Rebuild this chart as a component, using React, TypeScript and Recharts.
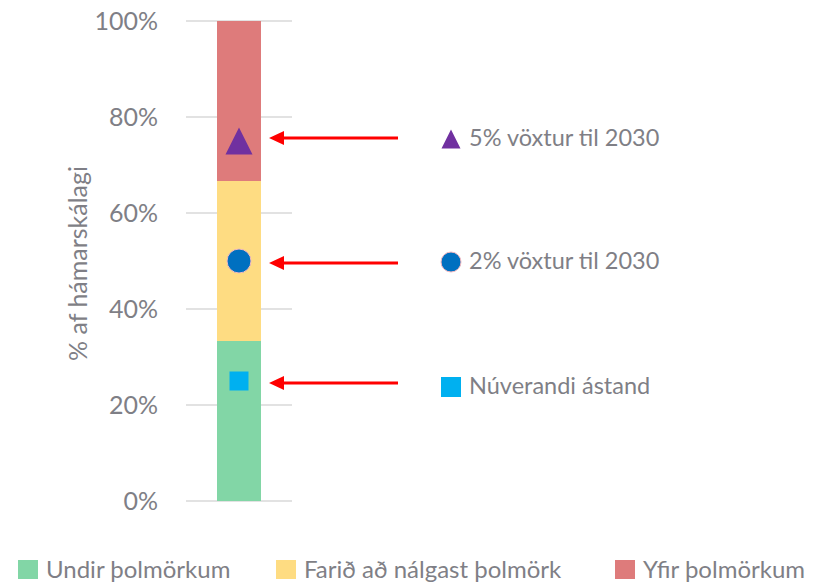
import { Bar, ComposedChart, Scatter, XAxis, YAxis, CartesianGrid } from "recharts"

const categories = ["Álag"]
const undir = [33.33]
const farid = [33.33]
const yfir = [33.34]
const nuverandi = [25]
const voxtur2 = [50]
const voxtur5 = [75]
const yTicks = [0, 20, 40, 60, 80, 100]

const data = categories.map((c, i) => ({
  name: c,
  undir: undir[i],
  farid: farid[i],
  yfir: yfir[i],
  nu: nuverandi[i],
  v2: voxtur2[i],
  v5: voxtur5[i],
}))

const FONT = "Lato, 'Open Sans', sans-serif"
const GREY = "#7f7f86"

function Marker({ kind, cx, cy, size, color }: { kind: string; cx: number; cy: number; size: number; color: string }) {
  if (kind === "triangle") {
    const h = size
    return <polygon points={`${cx},${cy - h / 2} ${cx + h / 2},${cy + h / 2} ${cx - h / 2},${cy + h / 2}`} fill={color} />
  }
  if (kind === "circle") {
    return <circle cx={cx} cy={cy} r={size / 2} fill={color} stroke="#f2b8c0" strokeWidth={1} />
  }
  return <rect x={cx - size / 2} y={cy - size / 2} width={size} height={size} fill={color} />
}

// marker on the bar + red arrow + label with icon on the right
function annotated(kind: string, color: string, label: string, arrowDy: number, labelDy: number, markerSize: number, iconSize: number) {
  return (props: any) => {
    const { cx, cy } = props
    const ay = cy + arrowDy
    const ly = cy + labelDy
    const tip = cx + 30
    return (
      <g>
        <Marker kind={kind} cx={cx} cy={cy} size={markerSize} color={color} />
        <line x1={tip + 12} y1={ay} x2={cx + 159} y2={ay} stroke="#ff0000" strokeWidth={3} />
        <polygon points={`${tip},${ay} ${tip + 15},${ay - 7} ${tip + 15},${ay + 7}`} fill="#ff0000" />
        <Marker kind={kind} cx={cx + 212} cy={ly} size={iconSize} color={color} />
        <text x={cx + 230} y={ly - 1} dy="0.36em" fontSize={23.5} fill={GREY} fontFamily={FONT}>
          {label}
        </text>
      </g>
    )
  }
}

const legendItems = [
  { label: "Undir þolmörkum", color: "#82d6a6", left: 18 },
  { label: "Farið að nálgast þolmörk", color: "#fedc82", left: 276 },
  { label: "Yfir þolmörkum", color: "#de7b7b", left: 615 },
]

function BottomLegend() {
  return (
    <div style={{ position: "absolute", left: 0, top: 557, width: 816, height: 25, fontFamily: FONT, fontSize: 24, color: GREY, lineHeight: "24px" }}>
      {legendItems.map((it) => (
        <div key={it.label} style={{ position: "absolute", left: it.left, top: 0, height: 24, display: "flex", alignItems: "center", whiteSpace: "nowrap" }}>
          <span style={{ width: 20, height: 19, background: it.color, marginRight: 8, display: "inline-block", flex: "none" }} />
          {it.label}
        </div>
      ))}
    </div>
  )
}

export default function App() {
  return (
    <div style={{ position: "absolute", left: 0, top: 0, width: 816, height: 582, background: "#fff", overflow: "hidden" }}>
      <ComposedChart width={816} height={582} data={data} margin={{ top: 21, right: 524, bottom: 81, left: 56 }}>
        <CartesianGrid vertical={false} stroke="#d9d9d9" strokeWidth={1.5} />
        <XAxis dataKey="name" hide />
        <YAxis
          domain={[0, 100]}
          ticks={yTicks}
          tickFormatter={(v) => `${v}%`}
          axisLine={false}
          tickLine={false}
          width={130}
          tickMargin={22}
          tick={{ fontSize: 25, fill: GREY, fontFamily: FONT }}
          label={{
            value: "% af hámarskálagi",
            angle: -90,
            position: "insideLeft",
            dx: 17,
            dy: 100,
            style: { fontSize: 25, fill: GREY, fontFamily: FONT },
          }}
        />
        <Bar dataKey="undir" stackId="a" fill="#82d6a6" barSize={44} isAnimationActive={false} />
        <Bar dataKey="farid" stackId="a" fill="#fedc82" barSize={44} isAnimationActive={false} />
        <Bar dataKey="yfir" stackId="a" fill="#de7b7b" barSize={44} isAnimationActive={false} />
        <Scatter dataKey="nu" isAnimationActive={false} shape={annotated("square", "#00b0f0", "Núverandi ástand", 2, 6, 19, 20)} />
        <Scatter dataKey="v2" isAnimationActive={false} shape={annotated("circle", "#0070c0", "2% vöxtur til 2030", 2, 1, 24, 20)} />
        <Scatter dataKey="v5" isAnimationActive={false} shape={annotated("triangle", "#7030a0", "5% vöxtur til 2030", -3, -2, 27, 19)} />
      </ComposedChart>
      <BottomLegend />
    </div>
  )
}
